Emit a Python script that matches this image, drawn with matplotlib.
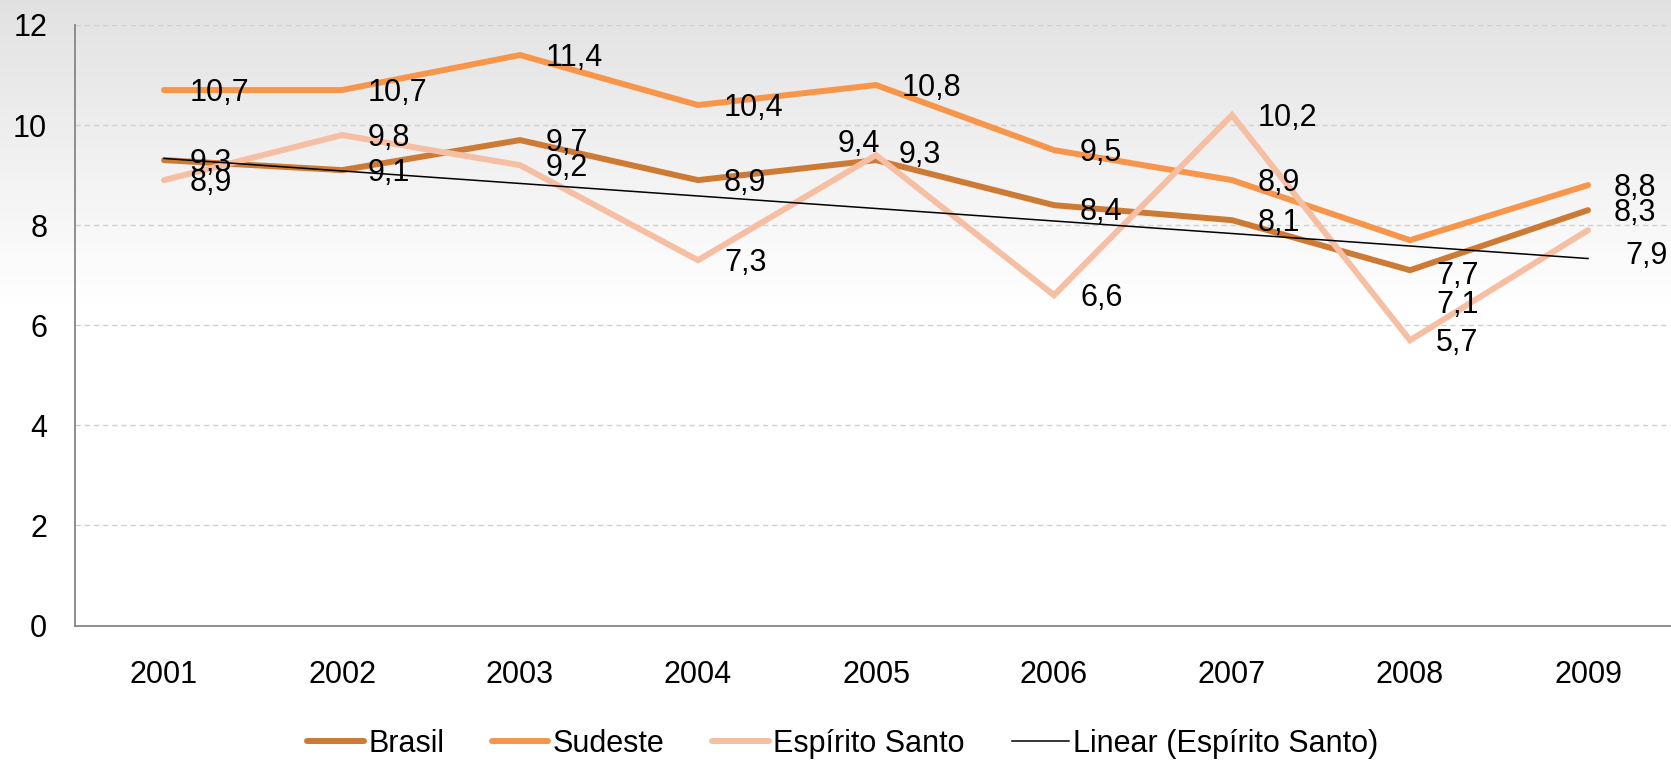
import numpy as np
import matplotlib
matplotlib.use("Agg")
import matplotlib.pyplot as plt

plt.rcParams['font.family'] = ['Liberation Sans', 'DejaVu Sans']

# ---- data ----
years = ["2001", "2002", "2003", "2004", "2005", "2006", "2007", "2008", "2009"]
brasil = [9.3, 9.1, 9.7, 8.9, 9.3, 8.4, 8.1, 7.1, 8.3]
sudeste = [10.7, 10.7, 11.4, 10.4, 10.8, 9.5, 8.9, 7.7, 8.8]
espirito_santo = [8.9, 9.8, 9.2, 7.3, 9.4, 6.6, 10.2, 5.7, 7.9]
series_names = ["Brasil", "Sudeste", "Espírito Santo"]
trend_name = "Linear (Espírito Santo)"
yticks = [0, 2, 4, 6, 8, 10, 12]

colors = {"Brasil": "#CD7A35", "Sudeste": "#F7964A", "Espírito Santo": "#F6BEA2"}

W, H, DPI = 16.71, 7.62, 100
fig = plt.figure(figsize=(W, H), dpi=DPI)

# background gradient
bg = fig.add_axes([0, 0, 1, 1], zorder=-10)
rows = np.linspace(0, 1, 762)
levels = np.clip(0.885 + (1 - 0.885) * (rows / 0.40), 0, 1)
img = np.repeat(levels[:, None], 10, axis=1)
img_rgb = np.dstack([img, img, img])
bg.imshow(img_rgb, aspect='auto', extent=[0, 1, 0, 1], origin='upper')
bg.set_axis_off()

left_px, right_px = 75, 1677
top_px, bot_px = 25, 625.5
ax = fig.add_axes([left_px / 1671, 1 - bot_px / 762,
                   (right_px - left_px) / 1671, (bot_px - top_px) / 762])
ax.set_facecolor('none')

x = np.arange(len(years))
data = {"Brasil": brasil, "Sudeste": sudeste, "Espírito Santo": espirito_santo}

for name in series_names:
    ax.plot(x, data[name], color=colors[name], lw=4.3, solid_capstyle='round',
            solid_joinstyle='miter', label=name, zorder=3)

# linear trend of Espírito Santo
coef = np.polyfit(x, espirito_santo, 1)
ax.plot(x, np.polyval(coef, x), color='black', lw=1.1, label=trend_name, zorder=4)

ax.set_xlim(-0.5, len(years) - 0.5)
ax.set_ylim(0, 12)
ax.set_yticks(yticks)
ax.set_yticklabels([str(t) for t in yticks])
ax.set_xticks(x)
ax.set_xticklabels(years)
ax.tick_params(axis='both', length=0, labelsize=22, colors='black')
ax.tick_params(axis='y', pad=20)
ax.tick_params(axis='x', pad=25)

for s in ['top', 'right']:
    ax.spines[s].set_visible(False)
for s in ['left', 'bottom']:
    ax.spines[s].set_color('#868686')
    ax.spines[s].set_linewidth(1.3)

ax.yaxis.grid(True, color='#D0D0D0', lw=1.0, linestyle=(0, (3.8, 2.8)))
ax.set_axisbelow(True)

# data labels (default: to the right of the point), with manual nudges in px
px = 0.72  # points per pixel
nudges = {
    ("Espírito Santo", 4): ('center', -17, -11),
    ("Brasil", 4): ('left', -3, -8),
    ("Sudeste", 7): ('left', 0, 33),
    ("Brasil", 7): ('left', 0, 32),
    ("Espírito Santo", 8): ('left', 11, 23),
    ("Brasil", 5): ('left', 0, 4),
}

def fmt(v):
    return f"{v:.1f}".replace('.', ',')

for name in series_names:
    for i, v in enumerate(data[name]):
        ha, dx, dy = nudges.get((name, i), ('left', 0, 0))
        if ha == 'center':
            ox, oy = dx, -dy
        else:
            ox, oy = 26 + dx, -2.5 - dy
        ax.annotate(fmt(v), (x[i], v), xytext=(ox * px, oy * px),
                    textcoords='offset points', ha=ha, va='center',
                    fontsize=22, color='black', zorder=6)

leg = fig.legend(loc='center', bbox_to_anchor=(843 / 1671, 1 - 744 / 762),
                 ncol=4, frameon=False, fontsize=22, handlelength=1.85,
                 handletextpad=0.15, columnspacing=1.55)

fig.savefig('out.png', dpi=DPI)
